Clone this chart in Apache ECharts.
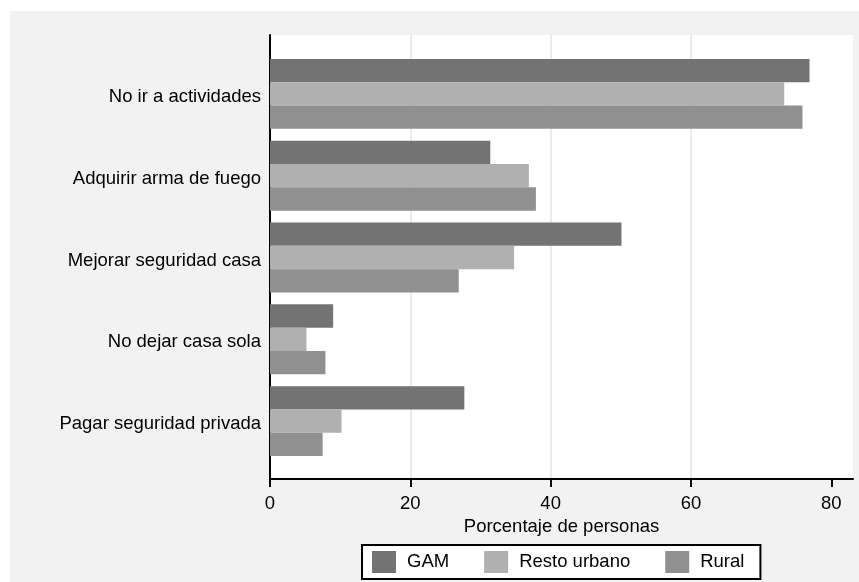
<!DOCTYPE html>
<html>
<head>
<meta charset="utf-8">
<script src="https://cdn.jsdelivr.net/npm/echarts@6/dist/echarts.min.js"></script>
<style>
html,body{margin:0;padding:0;background:#fff;}
#c{width:859px;height:582px;}
</style>
</head>
<body>
<div id="c"></div>
<script>
var categories = ["No ir a actividades", "Adquirir arma de fuego", "Mejorar seguridad casa", "No dejar casa sola", "Pagar seguridad privada"];
var seriesNames = ["GAM", "Resto urbano", "Rural"];
var gam = [76.9, 31.4, 50.1, 9.0, 27.7];
var restoUrbano = [73.3, 36.9, 34.8, 5.2, 10.2];
var rural = [75.9, 37.9, 26.9, 7.9, 7.5];
var xTicks = [0, 20, 40, 60, 80];
var xMax = 83.1;

var FONT = "'Liberation Sans', Arial, Helvetica, sans-serif";
var FS = 18.5;
var colors = ["#737373", "#b0b0b0", "#909090"];

var chart = echarts.init(document.getElementById('c'), null, {renderer: 'canvas'});
var option = {
  backgroundColor: '#ffffff',
  animation: false,
  textStyle: {fontFamily: FONT},
  graphic: [{
    type: 'rect', z: -10, silent: true,
    shape: {x: 10, y: 11, width: 849, height: 571},
    style: {fill: '#f2f2f2'}
  }],
  grid: [
    {left: 270, right: 6, top: 35, bottom: 103, show: true, backgroundColor: '#ffffff', borderWidth: 0},
    {left: 270, right: 6, top: 53, bottom: 120}
  ],
  legend: {
    data: seriesNames,
    left: 362, top: 545,
    orient: 'horizontal',
    itemWidth: 24, itemHeight: 22, itemGap: 35,
    padding: [6, 16, 6, 10],
    borderColor: '#000', borderWidth: 2,
    backgroundColor: '#ffffff',
    borderRadius: 0,
    textStyle: {fontSize: FS, color: '#000', fontFamily: FONT, padding: [0, 0, 0, 6]},
    icon: 'rect'
  },
  xAxis: [
    {
      gridIndex: 0, type: 'value', min: 0, max: xMax, interval: 20,
      position: 'bottom',
      name: 'Porcentaje de personas', nameLocation: 'middle', nameGap: 34,
      nameTextStyle: {fontSize: FS, color: '#000', fontFamily: FONT},
      axisLine: {show: true, onZero: false, lineStyle: {color: '#000', width: 2}},
      axisTick: {show: true, length: 8, lineStyle: {color: '#000', width: 2}, customValues: xTicks},
      axisLabel: {fontSize: FS, color: '#000', margin: 15, fontFamily: FONT, customValues: xTicks},
      splitLine: {show: true, showMinLine: false, showMaxLine: false, lineStyle: {color: '#ebebeb', width: 2}}
    },
    {
      gridIndex: 1, type: 'value', min: 0, max: xMax,
      show: false
    }
  ],
  yAxis: [
    {
      gridIndex: 0, type: 'value', min: 0, max: 1,
      axisLine: {show: true, onZero: false, lineStyle: {color: '#000', width: 2}},
      axisTick: {show: false}, axisLabel: {show: false}, splitLine: {show: false}
    },
    {
      gridIndex: 1, type: 'category', data: categories, inverse: true,
      axisLine: {show: false}, axisTick: {show: false},
      axisLabel: {fontSize: FS, color: '#000', margin: 9, fontFamily: FONT,
                  verticalAlign: 'top', lineHeight: 6},
      splitLine: {show: false}
    }
  ],
  series: [
    {name: seriesNames[0], type: 'bar', xAxisIndex: 1, yAxisIndex: 1, data: gam,
     itemStyle: {color: colors[0]}, barGap: '0%', barCategoryGap: '14.5%'},
    {name: seriesNames[1], type: 'bar', xAxisIndex: 1, yAxisIndex: 1, data: restoUrbano,
     itemStyle: {color: colors[1]}, barGap: '0%', barCategoryGap: '14.5%'},
    {name: seriesNames[2], type: 'bar', xAxisIndex: 1, yAxisIndex: 1, data: rural,
     itemStyle: {color: colors[2]}, barGap: '0%', barCategoryGap: '14.5%'}
  ]
};
chart.setOption(option);
</script>
</body>
</html>
